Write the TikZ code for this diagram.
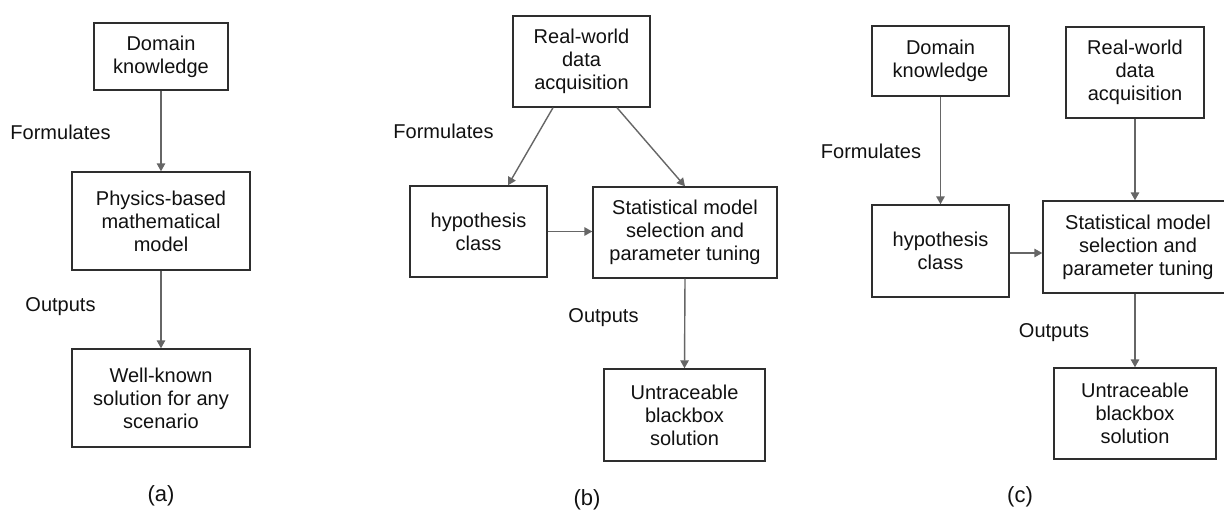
\documentclass[tikz,border=0pt]{standalone}
\usepackage{fontspec}
\setmainfont{Liberation Sans}
\usetikzlibrary{arrows.meta}
\definecolor{boxline}{HTML}{2E2E2E}
\definecolor{arrowline}{HTML}{666666}
\definecolor{ink}{HTML}{111111}
\begin{document}
\begin{tikzpicture}[x=1pt,y=-1pt,
  blk/.style={draw=boxline,line width=1.4pt,inner sep=0pt,align=center,
    text=ink,font=\fontsize{20}{23}\selectfont},
  lbl/.style={inner sep=0pt,text=ink,font=\fontsize{20}{23}\selectfont},
  panelcaption/.style={inner sep=0pt,text=ink,font=\fontsize{22}{26}\selectfont},
  flow/.style={draw=arrowline,line width=1.4pt,
    -{Triangle[length=8pt,width=8.5pt]}}]
\useasboundingbox (0,0) rectangle (1224,514);
\fill[white] (0,0) rectangle (1224,514);

% (a) physics-based pipeline
\node[blk,minimum width=134pt,minimum height=67pt] (a1) at (161,56.5) {Domain\\knowledge};
\node[blk,minimum width=178pt,minimum height=98pt] (a2) at (161,221) {Physics-based\\mathematical\\model};
\node[blk,minimum width=178pt,minimum height=98pt] (a3) at (161,398) {Well-known\\solution for any\\scenario};
\node[lbl] (fa) at (60.5,132) {Formulates};
\node[lbl] (oa) at (60.5,307) {Outputs};
\node[panelcaption] (ca) at (161,496) {(a)};
\draw[flow] (a1.south) -- (a2.north);
\draw[flow] (a2.south) -- (a3.north);

% (b) data-driven pipeline
\node[blk,minimum width=137pt,minimum height=91pt] (b1) at (581.5,61.5) {Real-world\\data\\acquisition};
\node[blk,minimum width=137pt,minimum height=91pt] (b2) at (478.5,231.5) {hypothesis\\class};
\node[blk,minimum width=184pt,minimum height=91pt] (b3) at (685,232.5) {Statistical model\\selection and\\parameter tuning};
\node[blk,minimum width=161pt,minimum height=92pt] (b4) at (684.5,415) {Untraceable\\blackbox\\solution};
\node[lbl] (fb) at (443.5,131) {Formulates};
\node[lbl] (ob) at (603.5,318) {Outputs};
\node[panelcaption] (cb) at (587,500) {(b)};
\draw[flow] ([xshift=-28.5pt]b1.south) -- ([xshift=29.5pt]b2.north);
\draw[flow] ([xshift=35.5pt]b1.south) -- (b3.north);
\draw[flow] (b2.east) -- (b2.east -| b3.west);
\draw[flow] (b3.south) -- (b4.north);

% (c) hybrid pipeline (the model box runs past the right edge)
\node[blk,minimum width=137pt,minimum height=70pt] (c1) at (940.5,61) {Domain\\knowledge};
\node[blk,minimum width=138pt,minimum height=91pt] (c2) at (1135,72.5) {Real-world\\data\\acquisition};
\node[blk,minimum width=137pt,minimum height=92pt] (c3) at (940.5,251) {hypothesis\\class};
\node[blk,minimum width=190pt,minimum height=92pt] (c4) at (1138,247) {Statistical model\\selection and\\parameter tuning};
\node[blk,minimum width=162pt,minimum height=91pt] (c5) at (1135,413.5) {Untraceable\\blackbox\\solution};
\node[lbl] (fc) at (871,151) {Formulates};
\node[lbl] (oc) at (1054,333) {Outputs};
\node[panelcaption] (cc) at (1020,497) {(c)};
\draw[flow] (c1.south) -- (c3.north);
\draw[flow] (c2.south) -- (c2.south |- c4.north);
\draw[flow] ([yshift=-2pt]c3.east) -- ([yshift=-2pt]c3.east -| c4.west);
\draw[flow] (c4.south -| c5.north) -- (c5.north);
\end{tikzpicture}
\end{document}
